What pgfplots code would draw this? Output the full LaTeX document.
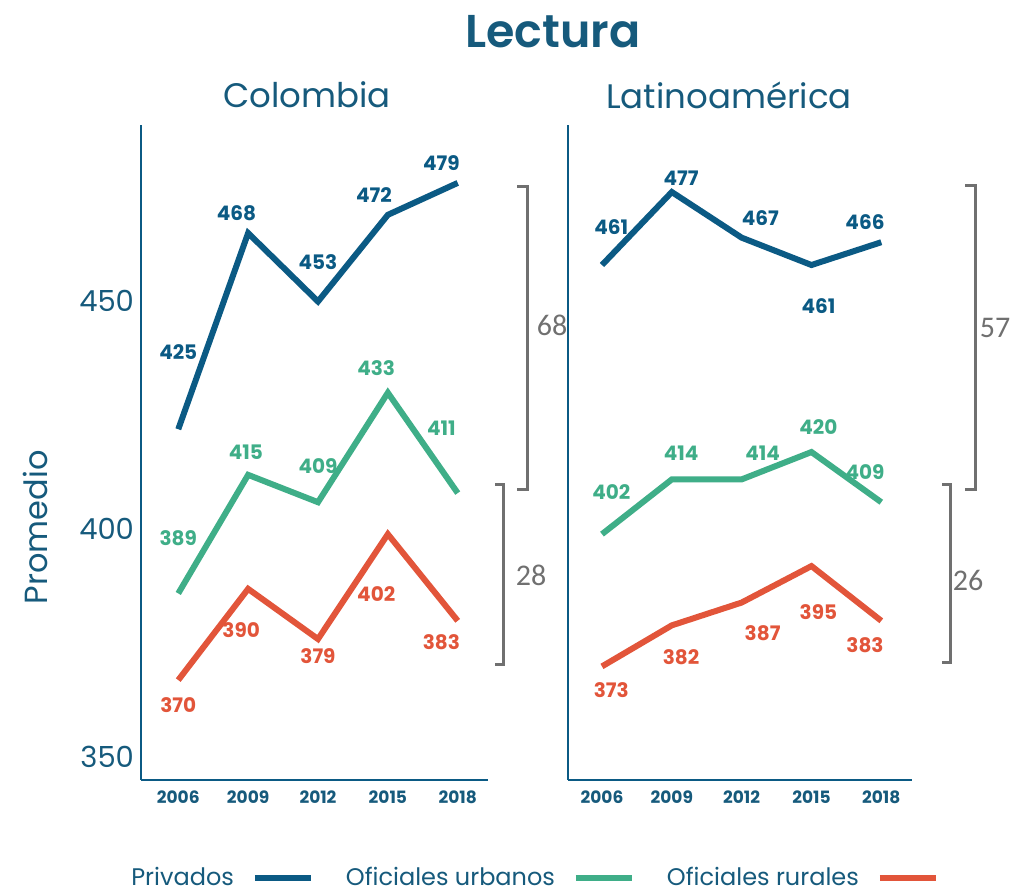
\documentclass[border=0pt]{standalone}
\usepackage{fontspec}
\setmainfont{Poppins}
\newfontfamily\carlito{Carlito}
\newfontfamily\psemi{Poppins SemiBold}
\usepackage{pgfplots}
\pgfplotsset{compat=1.18}
\definecolor{cblue}{HTML}{0B5A84}
\definecolor{cgreen}{HTML}{3FAE88}
\definecolor{cred}{HTML}{E2553A}
\definecolor{cgray}{HTML}{707070}
\definecolor{ctext}{HTML}{165A7C}

\pgfplotstableread{
year priv urb rur
2006 425 389 370
2009 468 415 390
2012 453 409 379
2015 472 433 402
2018 479 411 383
}\colombia
\pgfplotstableread{
year priv urb rur
2006 461 402 373
2009 477 414 382
2012 467 414 387
2015 461 420 395
2018 466 409 383
}\latam

\tikzset{lab/.style={font=\bfseries\fontsize{10}{12}\selectfont}}
\pgfplotsset{
 panel/.style={
  scale only axis, height=327.5pt,
  axis x line*=bottom, axis y line*=left,
  axis line style={cblue, line width=1.2pt},
  ymin=348.1, ymax=491.7,
  xtick={2006,2009,2012,2015,2018},
  xticklabels={2006,2009,2012,2015,2018},
  major tick length=0pt,
  xticklabel style={font=\bfseries\fontsize{8.5}{10}\selectfont, text=ctext, yshift=-2pt},
  clip=false,
  every axis plot/.append style={line width=3pt, no markers},
 },
}

\begin{document}
\begin{tikzpicture}
\useasboundingbox (0,0) rectangle (511pt,446.5pt);

\begin{axis}[panel, at={(70.5pt,56.5pt)}, anchor=south west,
  width=173.5pt, xmin=2004.4, xmax=2019.3,
  ytick={350,400,450},
  yticklabel style={font=\fontsize{14.5}{16}\selectfont, text=ctext, yshift=7pt},
  /pgf/number format/assume math mode=true,
  ylabel={Promedio},
  ylabel style={at={(axis description cs:-0.305,0.386)}, anchor=center, font=\fontsize{16}{18}\selectfont, text=ctext},
  legend plot pos=right,
  legend image code/.code={\draw[#1, line width=3pt] (0pt,0pt) -- (28pt,0pt);},
  legend style={at={(axis description cs:1.13,-0.15)}, anchor=center, legend columns=3, draw=none,
    font=\fontsize{12}{14}\selectfont, text=ctext,
    /tikz/every odd column/.append style={column sep=7pt},
    /tikz/every even column/.append style={column sep=14pt}},
]
\addplot[cblue] table[x=year, y=priv] {\colombia};
\addlegendentry{Privados}
\addplot[cgreen] table[x=year, y=urb] {\colombia};
\addlegendentry{Oficiales urbanos}
\addplot[cred] table[x=year, y=rur] {\colombia};
\addlegendentry{Oficiales rurales}

\node[lab, text=cblue] at (axis cs:2006,441.9) {425};
\node[lab, text=cblue] at (axis cs:2008.5,472.4) {468};
\node[lab, text=cblue] at (axis cs:2012.0,461.7) {453};
\node[lab, text=cblue] at (axis cs:2014.4,476.4) {472};
\node[lab, text=cblue] at (axis cs:2017.3,483.4) {479};
\node[lab, text=cgreen] at (axis cs:2006,401.1) {389};
\node[lab, text=cgreen] at (axis cs:2008.9,420.0) {415};
\node[lab, text=cgreen] at (axis cs:2012.0,416.9) {409};
\node[lab, text=cgreen] at (axis cs:2014.5,438.4) {433};
\node[lab, text=cgreen] at (axis cs:2017.3,425.3) {411};
\node[lab, text=cred] at (axis cs:2006,364.5) {370};
\node[lab, text=cred] at (axis cs:2008.7,381.0) {390};
\node[lab, text=cred] at (axis cs:2012.0,375.3) {379};
\node[lab, text=cred] at (axis cs:2014.5,388.9) {402};
\node[lab, text=cred] at (axis cs:2017.3,378.3) {383};
\end{axis}

\begin{axis}[panel, at={(284pt,56.5pt)}, anchor=south west,
  width=172pt, xmin=2004.54, xmax=2019.32,
  ytick=\empty,
]
\addplot[cblue] table[x=year, y=priv] {\latam};
\addplot[cgreen] table[x=year, y=urb] {\latam};
\addplot[cred] table[x=year, y=rur] {\latam};

\node[lab, text=cblue] at (axis cs:2006.4,469.3) {461};
\node[lab, text=cblue] at (axis cs:2009.4,480.1) {477};
\node[lab, text=cblue] at (axis cs:2012.8,471.3) {467};
\node[lab, text=cblue] at (axis cs:2015.3,452.0) {461};
\node[lab, text=cblue] at (axis cs:2017.3,470.4) {466};
\node[lab, text=cgreen] at (axis cs:2006.4,411.2) {402};
\node[lab, text=cgreen] at (axis cs:2009.4,419.8) {414};
\node[lab, text=cgreen] at (axis cs:2012.9,419.8) {414};
\node[lab, text=cgreen] at (axis cs:2015.3,425.5) {420};
\node[lab, text=cgreen] at (axis cs:2017.3,415.6) {409};
\node[lab, text=cred] at (axis cs:2006.4,367.8) {373};
\node[lab, text=cred] at (axis cs:2009.4,375.0) {382};
\node[lab, text=cred] at (axis cs:2012.9,380.3) {387};
\node[lab, text=cred] at (axis cs:2015.3,384.9) {395};
\node[lab, text=cred] at (axis cs:2017.3,377.7) {383};
\end{axis}

% titles
\node[font=\psemi\fontsize{23}{26}\selectfont, text=ctext] at (276.5pt,430.5pt) {Lectura};
\node[font=\fontsize{17}{20}\selectfont, text=ctext] at (153.5pt,399pt) {Colombia};
\node[font=\fontsize{17}{20}\selectfont, text=ctext] at (364.5pt,399pt) {Latinoamérica};

% brackets
\draw[cgray, line width=1.5pt] (258.5pt,353pt) -- (263.5pt,353pt) -- (263.5pt,201.5pt) -- (258.5pt,201.5pt);
\draw[cgray, line width=1.5pt] (247.5pt,204pt) -- (251.5pt,204pt) -- (251.5pt,114pt) -- (247.5pt,114pt);
\node[font=\carlito\fontsize{15}{17}\selectfont, text=cgray] at (276pt,284pt) {68};
\node[font=\carlito\fontsize{15}{17}\selectfont, text=cgray] at (265.5pt,159pt) {28};
\draw[cgray, line width=1.5pt] (482.5pt,353.5pt) -- (487.5pt,353.5pt) -- (487.5pt,201.5pt) -- (482.5pt,201.5pt);
\draw[cgray, line width=1.5pt] (471pt,204pt) -- (475pt,204pt) -- (475pt,115pt) -- (471pt,115pt);
\node[font=\carlito\fontsize{15}{17}\selectfont, text=cgray] at (497.5pt,282.5pt) {57};
\node[font=\carlito\fontsize{15}{17}\selectfont, text=cgray] at (484pt,156.5pt) {26};
\end{tikzpicture}
\end{document}
